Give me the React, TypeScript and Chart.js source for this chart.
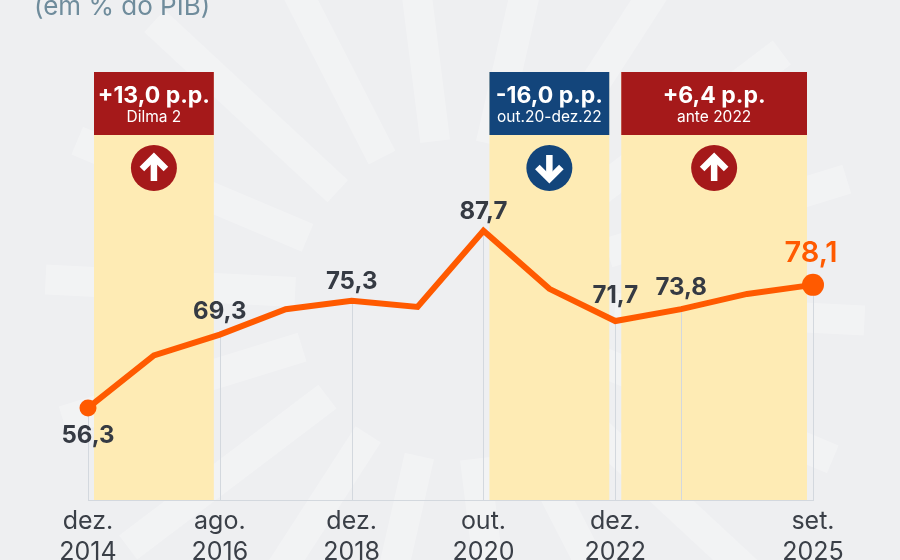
import { useEffect, useRef } from 'react';
import { Chart, registerables } from 'chart.js';

Chart.register(...registerables);

// ---- data ----
const tickLabels: (string[] | null)[] = [
  ['dez.', '2014'], null, ['ago.', '2016'], null, ['dez.', '2018'], null,
  ['out.', '2020'], null, ['dez.', '2022'], null, null, ['set.', '2025'],
];
const values = [56.3, 65.6, 69.3, 73.8, 75.3, 74.2, 87.7, 77.4, 71.7, 73.8, 76.5, 78.1];
const markedPoints = [0, 2, 4, 6, 8, 9, 11];
const bandFrom = [0, 6, 8];
const bandTo = [2, 8, 11];
const bandChange = ['+13,0 p.p.', '-16,0 p.p.', '+6,4 p.p.'];
const bandPeriod = ['Dilma 2', 'out.20-dez.22', 'ante 2022'];
const bandUp = [true, false, true];
const subtitle = '(em % do PIB)';

const FONT = 'Inter, "Noto Sans", "DejaVu Sans", sans-serif';
const ORANGE = '#FF5A00';
const TEXT = '#353A43';
const fmt = (v: number) => v.toFixed(1).replace('.', ',');

const labelOffset: Record<number, number> = { 0: 28, 2: -23, 4: -19, 6: -19, 8: -25, 9: -21, 11: -32 };

const backdrop = {
  id: 'backdrop',
  beforeDraw(chart: any) {
    const { ctx, width, height } = chart;
    ctx.save();
    ctx.fillStyle = '#EEEFF1';
    ctx.fillRect(0, 0, width, height);
    const cx = 455, cy = 300;
    ctx.fillStyle = 'rgba(255,255,255,0.26)';
    for (let k = 0; k < 18; k++) {
      const a = (k * Math.PI * 2) / 18 + 0.05;
      ctx.save();
      ctx.translate(cx, cy);
      ctx.rotate(a);
      ctx.fillRect(160, -15, 250, 30);
      ctx.restore();
    }
    ctx.fillStyle = '#6F8C9C';
    ctx.font = `400 26px ${FONT}`;
    ctx.textBaseline = 'alphabetic';
    ctx.textAlign = 'left';
    ctx.fillText(subtitle, 34, 15);
    ctx.restore();
  },
};

const bandsPlugin = {
  id: 'bands',
  beforeDatasetsDraw(chart: any) {
    const { ctx, chartArea, scales } = chart;
    const x = scales.x, y = scales.y;
    ctx.save();
    bandFrom.forEach((f, i) => {
      const l = x.getPixelForValue(f) + 6;
      const r = x.getPixelForValue(bandTo[i]) - 6;
      const top = chartArea.top;
      ctx.fillStyle = '#FEEBB4';
      ctx.fillRect(l, top, r - l, chartArea.bottom - top);
      const col = bandUp[i] ? '#A5191A' : '#13457B';
      ctx.fillStyle = col;
      ctx.fillRect(l, top, r - l, 63);
      const cx = (l + r) / 2;
      ctx.fillStyle = '#ffffff';
      ctx.textAlign = 'center';
      ctx.textBaseline = 'middle';
      ctx.font = `700 23px ${FONT}`;
      ctx.fillText(bandChange[i], cx, top + 24);
      ctx.font = `400 15.5px ${FONT}`;
      ctx.fillText(bandPeriod[i], cx, top + 45);
      const cy = top + 96;
      ctx.beginPath();
      ctx.arc(cx, cy, 23, 0, Math.PI * 2);
      ctx.fillStyle = col;
      ctx.fill();
      const s = bandUp[i] ? 1 : -1;
      ctx.strokeStyle = '#ffffff';
      ctx.lineWidth = 6.5;
      ctx.lineJoin = 'miter';
      ctx.lineCap = 'butt';
      ctx.beginPath();
      ctx.moveTo(cx - 12, cy + s * 1);
      ctx.lineTo(cx, cy - s * 11);
      ctx.lineTo(cx + 12, cy + s * 1);
      ctx.stroke();
      ctx.beginPath();
      ctx.moveTo(cx, cy - s * 10);
      ctx.lineTo(cx, cy + s * 13);
      ctx.stroke();
    });
    ctx.strokeStyle = '#D3D8DE';
    ctx.lineWidth = 1;
    markedPoints.forEach((i) => {
      const px = Math.round(x.getPixelForValue(i)) + 0.5;
      ctx.beginPath();
      ctx.moveTo(px, y.getPixelForValue(values[i]));
      ctx.lineTo(px, chartArea.bottom);
      ctx.stroke();
    });
    ctx.restore();
  },
};

const valueLabels = {
  id: 'valueLabels',
  afterDatasetsDraw(chart: any) {
    const { ctx, scales } = chart;
    ctx.save();
    ctx.textAlign = 'center';
    ctx.textBaseline = 'middle';
    markedPoints.forEach((i) => {
      const last = i === values.length - 1;
      const px = scales.x.getPixelForValue(i) + (last ? -2 : 0);
      const py = scales.y.getPixelForValue(values[i]) + labelOffset[i];
      ctx.fillStyle = last ? ORANGE : TEXT;
      ctx.font = last ? `600 29px ${FONT}` : `700 24px ${FONT}`;
      ctx.fillText(fmt(values[i]), px, py);
    });
    ctx.restore();
  },
};

export default function App() {
  const ref = useRef<HTMLCanvasElement>(null);
  useEffect(() => {
    const chart = new Chart(ref.current!, {
      type: 'line',
      data: {
        labels: values.map((_, i) => String(i)),
        datasets: [
          {
            data: values,
            borderColor: ORANGE,
            borderWidth: 6,
            tension: 0,
            pointRadius: values.map((_, i) => (i === 0 ? 8.5 : i === values.length - 1 ? 11 : 0)),
            pointHoverRadius: 0,
            pointBackgroundColor: ORANGE,
            pointBorderWidth: 0,
            clip: false as any,
          },
        ],
      },
      options: {
        animation: false,
        responsive: true,
        maintainAspectRatio: false,
        layout: { padding: { left: 88, right: 87, top: 72, bottom: 0 } },
        plugins: { legend: { display: false }, tooltip: { enabled: false }, title: { display: false } },
        scales: {
          x: {
            type: 'category',
            offset: false,
            grid: { display: false, drawTicks: false },
            border: { display: true, color: '#D3D8DE', width: 1 },
            ticks: {
              autoSkip: false,
              maxRotation: 0,
              padding: 6,
              color: '#3A3F47',
              font: { family: FONT, size: 25, lineHeight: 1.24 },
              callback: (_v: any, i: number) => tickLabels[i] ?? '',
            },
            afterFit: (s: any) => {
              s.height = 60;
            },
          },
          y: { display: false, min: 40, max: 115.8 },
        },
      },
      plugins: [backdrop, bandsPlugin, valueLabels],
    });
    return () => chart.destroy();
  }, []);
  return (
    <div style={{ position: 'fixed', left: 0, top: 0, width: 900, height: 560 }}>
      <canvas ref={ref} />
    </div>
  );
}
